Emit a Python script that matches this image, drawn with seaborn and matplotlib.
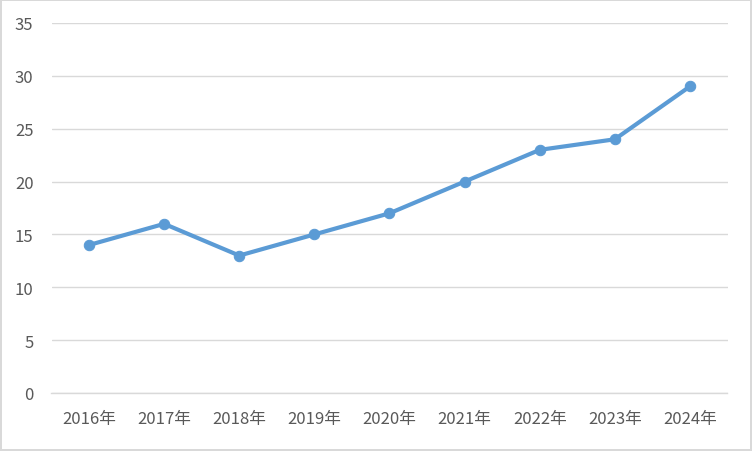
import matplotlib
matplotlib.use('Agg')
import matplotlib.pyplot as plt
import seaborn as sns
import pandas as pd

years = ['2016年', '2017年', '2018年', '2019年', '2020年', '2021年', '2022年', '2023年', '2024年']
values = [14, 16, 13, 15, 17, 20, 23, 24, 29]
yticks = [0, 5, 10, 15, 20, 25, 30, 35]

sns.set_style('white')
plt.rcParams['font.family'] = ['Noto Sans CJK SC', 'DejaVu Sans']

df = pd.DataFrame({'year': years, 'value': values})

fig = plt.figure(figsize=(7.52, 4.52), dpi=100)
fig.patch.set_edgecolor('#D9D9D9')
fig.patch.set_linewidth(1.5)
ax = fig.add_axes([51.5 / 752, 58 / 452, 676 / 752, 370 / 452])

sns.lineplot(data=df, x='year', y='value', ax=ax, color='#5B9BD5',
             linewidth=3, marker='o', markersize=7.5,
             markeredgecolor='#5B9BD5', sort=False)

ax.set_xlim(-0.5, len(years) - 0.5)
ax.set_ylim(0, 35)
ax.set_yticks(yticks)
ax.yaxis.grid(True, color='#D9D9D9', linewidth=1)
ax.set_axisbelow(True)
for s in ['top', 'right', 'left']:
    ax.spines[s].set_visible(False)
ax.spines['bottom'].set_color('#D9D9D9')
ax.spines['bottom'].set_linewidth(1)
ax.tick_params(axis='both', length=0, labelsize=12, colors='#595959')
ax.tick_params(axis='y', pad=13)
ax.tick_params(axis='x', pad=12)
ax.set_xlabel('')
ax.set_ylabel('')

fig.savefig('out.png', dpi=100, edgecolor=fig.get_edgecolor())
